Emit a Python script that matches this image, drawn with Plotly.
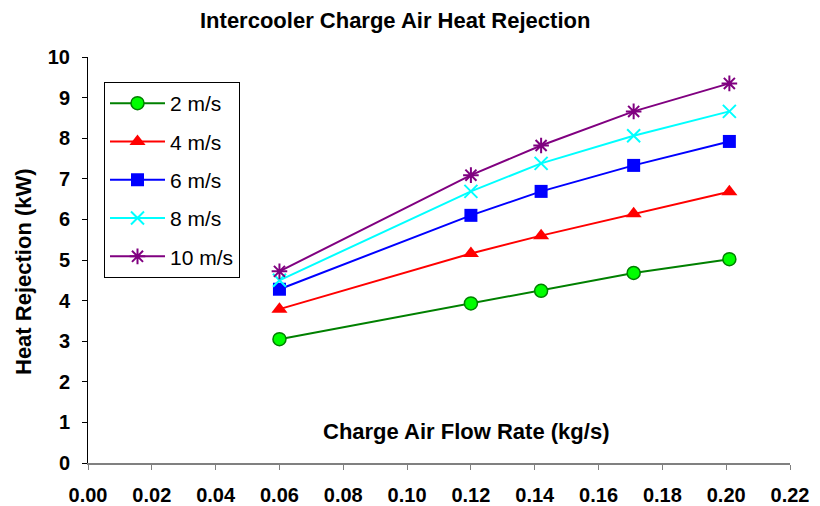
import plotly.graph_objects as go

flow = [0.060, 0.120, 0.142, 0.171, 0.201]
series_names = ["2 m/s", "4 m/s", "6 m/s", "8 m/s", "10 m/s"]
v2 = [3.05, 3.93, 4.24, 4.68, 5.02]
v4 = [3.79, 5.16, 5.60, 6.14, 6.68]
v6 = [4.28, 6.10, 6.69, 7.33, 7.92]
v8 = [4.50, 6.69, 7.38, 8.06, 8.66]
v10 = [4.72, 7.09, 7.82, 8.66, 9.35]
x_ticks = [0.00, 0.02, 0.04, 0.06, 0.08, 0.10, 0.12, 0.14, 0.16, 0.18, 0.20, 0.22]
y_ticks = list(range(0, 11))

FONT = "Liberation Sans, Arial, sans-serif"

styles = [
    dict(line=dict(color="#008000", width=2),
         marker=dict(symbol="circle", size=13, color="#00FF00", line=dict(color="#008000", width=1.5))),
    dict(line=dict(color="#FF0000", width=2),
         marker=dict(symbol="triangle-up", size=14, color="#FF0000", line=dict(color="#FF0000", width=0))),
    dict(line=dict(color="#0000FF", width=2),
         marker=dict(symbol="square", size=13, color="#0000FF", line=dict(color="#0000FF", width=0))),
    dict(line=dict(color="#00FFFF", width=2),
         marker=dict(symbol="x-thin-open", size=13, color="#00FFFF", line=dict(color="#00FFFF", width=2))),
    dict(line=dict(color="#800080", width=2),
         marker=dict(symbol="asterisk-open", size=13, color="#800080", line=dict(color="#800080", width=2))),
]

fig = go.Figure()
for name, vals, st in zip(series_names, [v2, v4, v6, v8, v10], styles):
    fig.add_trace(go.Scatter(x=flow, y=vals, name=name, mode="lines+markers",
                             legendgroup=name, **st))

fig.update_layout(
    width=820, height=506,
    margin=dict(l=88, r=30, t=57, b=43, pad=0),
    paper_bgcolor="white", plot_bgcolor="white",
    font=dict(family=FONT, color="black"),
    showlegend=True,
    legend=dict(
        x=(104 - 88) / 702, y=(463 - 82) / 406, xanchor="left", yanchor="top",
        bgcolor="white", bordercolor="black", borderwidth=1,
        font=dict(family=FONT, size=21, color="black"),
        tracegroupgap=8, itemwidth=55,
    ),
    xaxis=dict(
        range=[0, 0.22], tickvals=x_ticks, ticktext=[f"{v:.2f}" for v in x_ticks],
        showgrid=False, zeroline=False, showline=True, linecolor="#808080", linewidth=2,
        ticks="outside", ticklen=5, tickcolor="#808080", tickwidth=1,
        tickfont=dict(family=FONT, size=20, color="black", weight="bold"),
        ticklabelstandoff=8, automargin=False,
    ),
    yaxis=dict(
        range=[0, 10], tickvals=y_ticks,
        showgrid=False, zeroline=False, showline=True, linecolor="black", linewidth=1,
        ticks="outside", ticklen=5, tickcolor="black", tickwidth=1,
        tickfont=dict(family=FONT, size=20, color="black", weight="bold"),
        ticklabelstandoff=8, automargin=False,
    ),
    annotations=[
        dict(text="<b>Intercooler Charge Air Heat Rejection</b>", xref="paper", yref="paper",
             x=(395 - 88) / 702, y=(463 - 20) / 406, xanchor="center", yanchor="middle",
             showarrow=False, font=dict(family=FONT, size=22, color="black")),
        dict(text="<b>Charge Air Flow Rate (kg/s)</b>", xref="paper", yref="paper",
             x=(466 - 88) / 702, y=(463 - 431) / 406, xanchor="center", yanchor="middle",
             showarrow=False, font=dict(family=FONT, size=22, color="black")),
        dict(text="<b>Heat Rejection (kW)</b>", xref="paper", yref="paper",
             x=(23 - 88) / 702, y=(463 - 272) / 406, xanchor="center", yanchor="middle",
             textangle=-90, showarrow=False, font=dict(family=FONT, size=22, color="black")),
    ],
)

fig.write_html("out.html", config={"displayModeBar": False},
               post_script="document.body.style.margin='0';")
